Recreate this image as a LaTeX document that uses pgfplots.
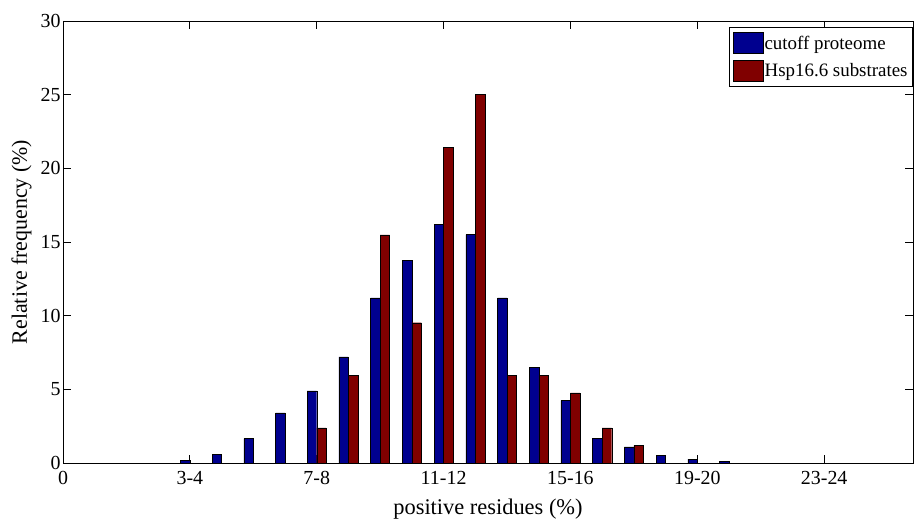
\documentclass[border=0pt]{standalone}
\usepackage{pgfplots}
\pgfplotsset{compat=1.18}
\usepackage{fontspec}
\setmainfont{Liberation Serif}
\definecolor{mblue}{RGB}{0,0,143}
\definecolor{mred}{RGB}{128,0,0}
\begin{document}
\begin{tikzpicture}
\begin{axis}[
  scale only axis, width=850bp, height=442bp,
  xmin=0, xmax=26.8, ymin=0, ymax=30,
  xtick={0,4,8,12,16,20,24},
  xticklabels={0,3-4,7-8,11-12,15-16,19-20,23-24},
  ytick={0,5,...,30},
  tick align=inside, tick pos=both,
  major tick length=8bp,
  axis line style={line width=0.8bp, black},
  tick style={line width=0.8bp, black},
  ticklabel style={font=\fontsize{20}{20}\selectfont},
  xticklabel style={yshift=-5bp},
  yticklabel style={xshift=1bp},
  /pgf/number format/assume math mode=true,
  xlabel={positive residues (\%)},
  ylabel={Relative frequency (\%)},
  xlabel style={font=\fontsize{22.5}{22.5}\selectfont, yshift=-7bp},
  ylabel style={font=\fontsize{22}{22}\selectfont, yshift=2bp},
  legend image code/.code={\draw[#1] (0bp,-10.5bp) rectangle (30bp,10.5bp);},
  legend style={at={(1,1)}, anchor=north east, yshift=-6bp,
    draw=black, line width=0.8bp, font=\fontsize{19}{19}\selectfont,
    inner xsep=4bp, inner ysep=5bp, row sep=6bp,
    nodes={inner sep=1bp}},
  legend cell align=left,
]
\addplot[ybar, bar width=0.3, bar shift=-0.15, fill=mblue, draw=black, line width=0.4bp]
  coordinates {(4,0.2) (5,0.6) (6,1.65) (7,3.4) (8,4.9) (9,7.2) (10,11.2) (11,13.75)
  (12,16.2) (13,15.5) (14,11.2) (15,6.5) (16,4.25) (17,1.65) (18,1.1) (19,0.5) (20,0.27) (21,0.1)};
\addplot[ybar, bar width=0.3, bar shift=0.15, fill=mred, draw=black, line width=0.4bp]
  coordinates {(8,2.38) (9,5.95) (10,15.48) (11,9.52) (12,21.43) (13,25.00) (14,5.95)
  (15,5.95) (16,4.76) (17,2.38) (18,1.19)};
\legend{cutoff proteome, Hsp16.6 substrates}
\end{axis}
\pgfresetboundingbox
\useasboundingbox (-63bp,-62bp) rectangle (851bp,463bp);
\end{tikzpicture}
\end{document}
